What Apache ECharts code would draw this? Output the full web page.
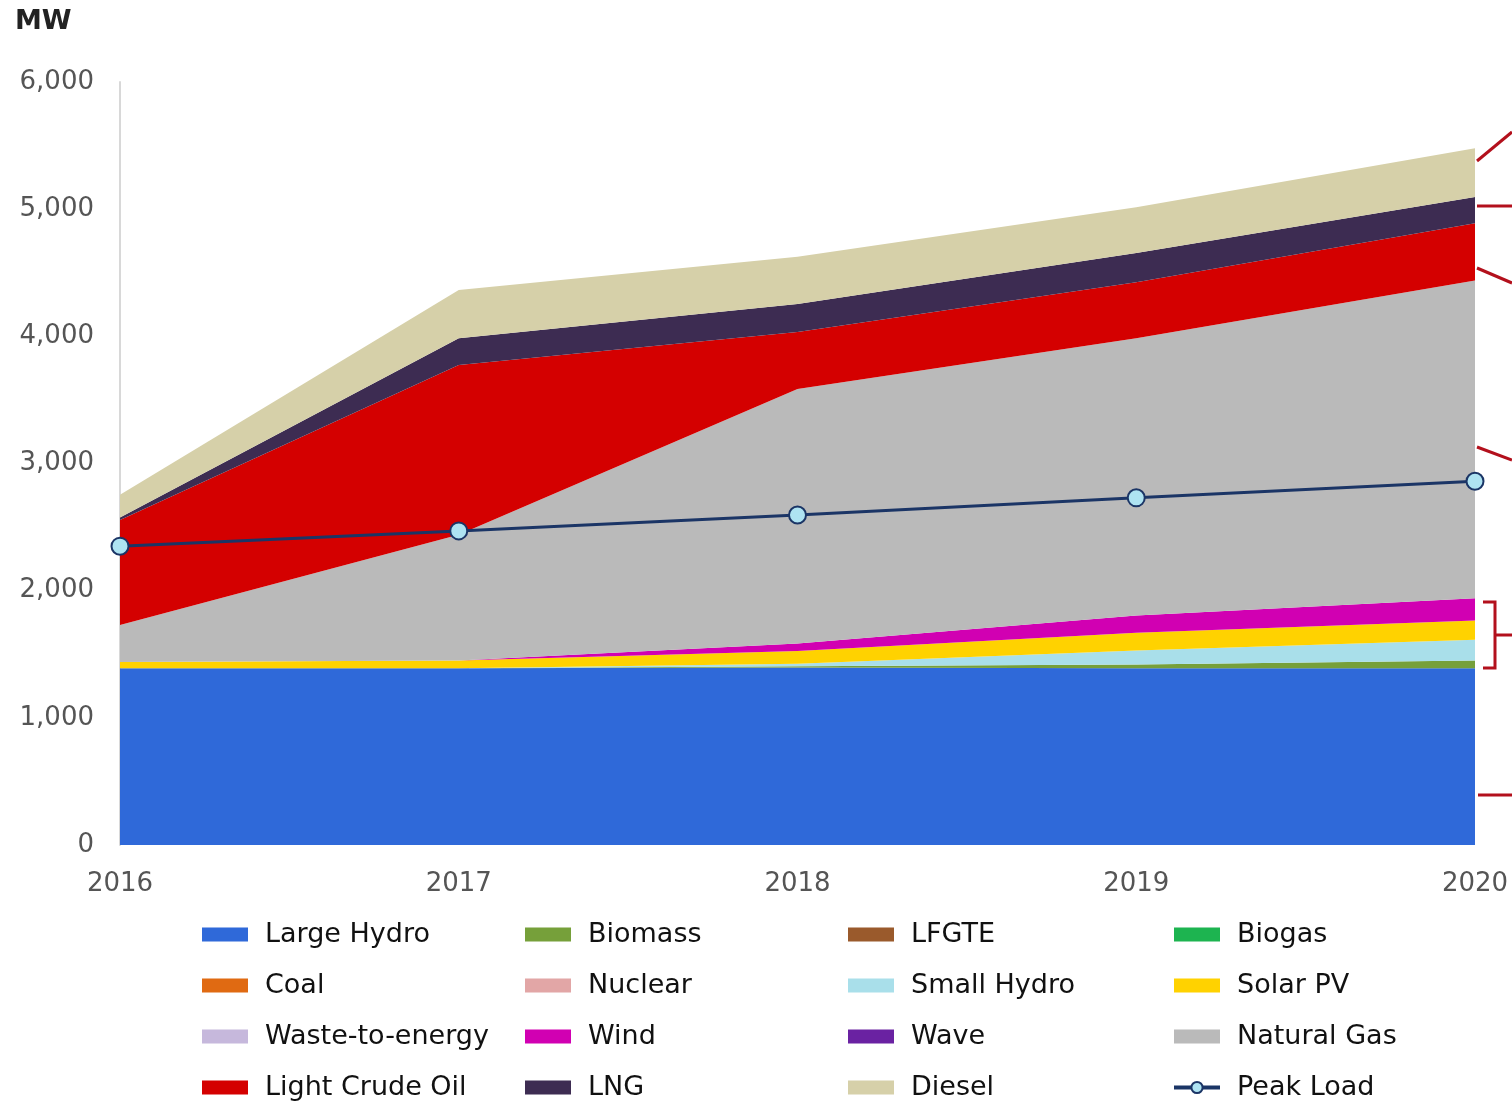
<!DOCTYPE html>
<html>
<head>
<meta charset="utf-8">
<script src="https://cdn.jsdelivr.net/npm/echarts@6/dist/echarts.min.js"></script>
<style>
  html, body { margin: 0; padding: 0; background: #fff; }
  #chart { width: 1512px; height: 1104px; }
</style>
</head>
<body>
<div id="chart"></div>
<script>
const years = ['2016', '2017', '2018', '2019', '2020']
const yTicks = [0, 1000, 2000, 3000, 4000, 5000, 6000]

// MW installed capacity by source (stacked, bottom to top)
const largeHydro = [1390, 1390, 1395, 1390, 1390]
const biomass = [0, 0, 10, 30, 60]
const lfgte = [0, 0, 0, 0, 0]
const biogas = [0, 0, 0, 0, 0]
const coal = [0, 0, 0, 0, 0]
const nuclear = [0, 0, 0, 0, 0]
const smallHydro = [0, 0, 20, 110, 165]
const solarPV = [50, 60, 100, 140, 150]
const wasteToEnergy = [0, 0, 0, 0, 0]
const wind = [0, 0, 60, 135, 175]
const wave = [0, 0, 0, 0, 0]
const naturalGas = [290, 990, 2000, 2180, 2500]
const lightCrudeOil = [825, 1335, 450, 440, 450]
const lng = [20, 210, 220, 230, 205]
const diesel = [180, 380, 370, 360, 385]
const peakLoad = [2350, 2470, 2595, 2730, 2860]

const sources = [
  { name: 'Large Hydro', data: largeHydro, color: '#2f69d9' },
  { name: 'Biomass', data: biomass, color: '#76a03a' },
  { name: 'LFGTE', data: lfgte, color: '#9a5a2c' },
  { name: 'Biogas', data: biogas, color: '#1db450' },
  { name: 'Coal', data: coal, color: '#e06a12' },
  { name: 'Nuclear', data: nuclear, color: '#e2a6a6' },
  { name: 'Small Hydro', data: smallHydro, color: '#a9dfea' },
  { name: 'Solar PV', data: solarPV, color: '#ffd200' },
  { name: 'Waste-to-energy', data: wasteToEnergy, color: '#c6b8dc' },
  { name: 'Wind', data: wind, color: '#d100b2' },
  { name: 'Wave', data: wave, color: '#6a22a2' },
  { name: 'Natural Gas', data: naturalGas, color: '#bababa' },
  { name: 'Light Crude Oil', data: lightCrudeOil, color: '#d40000' },
  { name: 'LNG', data: lng, color: '#3d2c52' },
  { name: 'Diesel', data: diesel, color: '#d6d0a9' }
]

const font = 'DejaVu Sans'
const legendCols = [
  ['Large Hydro', 'Coal', 'Waste-to-energy', 'Light Crude Oil'],
  ['Biomass', 'Nuclear', 'Wind', 'LNG'],
  ['LFGTE', 'Small Hydro', 'Wave', 'Diesel'],
  ['Biogas', 'Solar PV', 'Natural Gas', 'Peak Load']
]
const legendX = [202, 525, 848, 1172]

const chart = echarts.init(document.getElementById('chart'))

const series = sources.map(s => ({
  name: s.name,
  type: 'line',
  stack: 'total',
  data: s.data,
  symbol: 'none',
  lineStyle: { width: 0 },
  areaStyle: { color: s.color, opacity: 1 },
  itemStyle: { color: s.color },
  emphasis: { disabled: true },
  z: 2
}))
series.push({
  name: 'Peak Load',
  type: 'line',
  data: peakLoad,
  symbol: 'circle',
  symbolSize: 17,
  lineStyle: { color: '#1b3566', width: 3 },
  itemStyle: { color: '#aee3f2', borderColor: '#1b3566', borderWidth: 2 },
  z: 5
})

const bracket = '#b3101c'
const option = {
  backgroundColor: '#fff',
  animation: false,
  textStyle: { fontFamily: font },
  grid: { left: 120, right: 37, top: 82, bottom: 259 },
  legend: legendCols.map((col, i) => ({
    orient: 'vertical',
    left: legendX[i],
    top: 921,
    height: 183,
    padding: 0,
    itemWidth: 46,
    itemHeight: 14,
    itemGap: 24,
    selectedMode: false,
    textStyle: { fontFamily: font, fontSize: 27, lineHeight: 27, color: '#111', padding: [0, 0, 0, 12] },
    data: col.map(n => n === 'Peak Load'
      ? { name: n, lineStyle: { width: 4 }, itemStyle: { borderWidth: 2 } }
      : { name: n, icon: 'rect' })
  })),
  xAxis: {
    type: 'category',
    data: years,
    boundaryGap: false,
    axisLine: { show: false },
    axisTick: { show: false },
    axisLabel: { fontFamily: font, fontSize: 26, color: '#555', margin: 26 }
  },
  yAxis: {
    type: 'value',
    min: yTicks[0],
    max: yTicks[yTicks.length - 1],
    interval: 1000,
    axisLine: { show: true, lineStyle: { color: '#d8d8d8', width: 2 } },
    axisTick: { show: false },
    splitLine: { show: false },
    axisLabel: {
      fontFamily: font, fontSize: 26, color: '#555', margin: 26,
      formatter: v => v.toLocaleString('en-US')
    }
  },
  graphic: [
    { type: 'text', left: 15, top: 8, style: { text: 'MW', font: 'bold 27px "DejaVu Sans"', fill: '#222' } },
    { type: 'polyline', shape: { points: [[1477, 161], [1512, 132]] }, style: { stroke: bracket, lineWidth: 3 } },
    { type: 'polyline', shape: { points: [[1477, 206], [1512, 206]] }, style: { stroke: bracket, lineWidth: 3 } },
    { type: 'polyline', shape: { points: [[1477, 268], [1512, 283]] }, style: { stroke: bracket, lineWidth: 3 } },
    { type: 'polyline', shape: { points: [[1477, 447], [1512, 460]] }, style: { stroke: bracket, lineWidth: 3 } },
    { type: 'polyline', shape: { points: [[1483, 602], [1495, 602], [1495, 668], [1483, 668]] }, style: { stroke: bracket, lineWidth: 3, fill: null } },
    { type: 'polyline', shape: { points: [[1495, 635], [1512, 635]] }, style: { stroke: bracket, lineWidth: 3 } },
    { type: 'polyline', shape: { points: [[1478, 795], [1512, 795]] }, style: { stroke: bracket, lineWidth: 3 } }
  ],
  series
}
chart.setOption(option)
</script>
</body>
</html>
